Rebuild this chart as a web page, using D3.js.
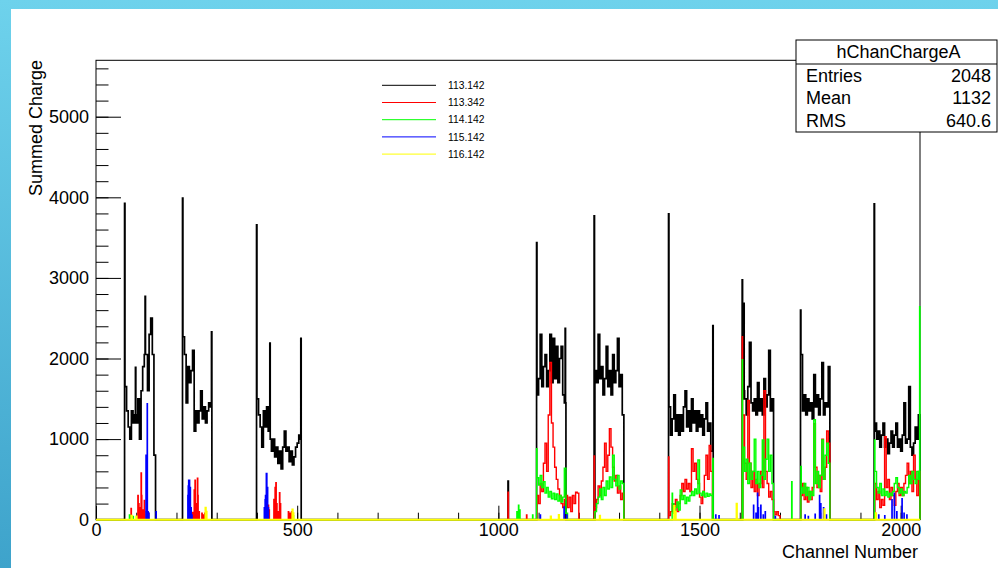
<!DOCTYPE html>
<html><head><meta charset="utf-8">
<script src="https://cdn.jsdelivr.net/npm/d3@7"></script>
<style>
html,body{margin:0;padding:0;width:998px;height:568px;overflow:hidden;background:#fff;}
svg{display:block;font-family:"Liberation Sans",Arial,Helvetica,sans-serif;}
</style></head><body>
<svg id="c" width="998" height="568"></svg>
<script>
// ---------------- DATA ----------------
const NCH = 2048;            // number of channels (bins)
const BIN = 4;               // channels per value in the block arrays
const seriesNames = ["113.142","113.342","114.142","115.142","116.142"];
const xMajorTicks = [0,500,1000,1500,2000];
const yMajorTicks = [0,1000,2000,3000,4000,5000];
const yMax = 5700;
const statsTitle = "hChanChargeA";
const statsLabels = ["Entries","Mean","RMS"];
const statsValues = ["2048","1132","640.6"];
const xTitle = "Channel Number";
const yTitle = "Summed Charge";

// blocks: [first channel, values per 4-channel group]; spikes: [channel, value]
const blackBlocks = [
  [72,  [1650,1350,1150,1000,1350,1200,1300,1200,1500,1000,1600,1900,2050,2050,1600,2300,2500,2050,800]],
  [216, [2270,2050,1450,1900,1700,1850,2100,1100,1350,1200,1350,1600,1250,1400,1200,1350,1450,1400]],
  [400, [1500,1300,1150,900,1350,1150,1400,1100,1000,850,1000,780,900,700,850,630,900,1100,850,900,720,850,680,780,900,950,1050]],
  [1096,[1550,1750,2300,1650,1900,2050,1650,1850,2300,1700,2250,1750,2150,1700,2000,2150,1550,1450]],
  [1240,[1850,1700,2300,1750,1900,1550,1750,2150,1650,1850,1550,2050,1700,1850,2250,1650,1800,1300]],
  [1424,[1400,1050,1250,1550,1100,1300,1050,1300,1100,1400,1600,1150,1350,1100,1500,1200,1350,1100,1350,1150,1300,1050,1250,1450,1100,1200,850]],
  [1608,[1600,1500,1300,1650,2200,1450,1350,1500,1300,1700,1350,1500,1300,1750,1400,1550,2100,1350,1500]],
  [1752,[2050,1350,1550,1300,1500,1350,1450,1250,1800,1400,1550,1300,1500,1950,1300,1450,1400,1900]],
  [1936,[1200,1000,1100,900,1050,1200,900,1000,820,950,1100,900,1050,1200,900,1000,850,1050,1450,950,1000,1650,900,800,950,1150,1000,1300]]
];
const blackSpikes = [[71,3925],[98,1890],[122,2770],[215,3990],[287,2330],[399,3657],[432,2190],[508,1000],[509,2250],
  [1024,480],[1095,3438],[1166,2375],[1238,3769],[1423,3794],[1532,850],[1533,2408],[1606,2975],[1607,1500],[1610,2685],
  [1751,2602],[1934,3918],[1935,1100]];

const redBlocks = [
  [1096,[300,200,450,350,700,950,600,1300,1950,1200,900,650,500,380,300,200,150,250,300,150,280,100,300,200,340,330]],
  [1240,[150,250,420,300,480,650,950,600,800,1130,900,650,480,550,330,420,250,330]],
  [1424,[50,100,200,150,250,100,200,300,450,350,500,380,450,350,880,600,700,500,450,280,200,350,550,800,500,920,600]],
  [1608,[1300,700,500,1480,700,400,600,350,500,300,450,600,400,1600,600,450,280,350,250,100,60,100,50]],
  [1752,[300,450,250,400,220,350,250,400,1190,650,400,550,350,1000,500,650,1100,950]],
  [1936,[450,250,350,150,250,180,1030,400,500,250,400,300,180,350,450,300,400,300,450,550,700,450,600,350,800,500,300,600]]
];
const redSpikes = [[87,140],[104,300],[106,200],[108,150],[112,580],[113,300],[116,120],[120,240],[125,100],[127,100],[130,80],
  [238,90],[240,90],[244,370],[246,490],[249,200],[252,514],[253,300],[256,100],[263,80],[266,60],[270,80],
  [428,180],[430,120],[442,250],[445,400],[447,459],[449,200],[452,100],[456,335],[458,200],[478,100],[482,80],[486,100],
  [1024,340],[1070,60],[1238,790],[1423,780],[1606,2270]];

const greenBlocks = [
  [1096,[520,430,550,400,470,330,400,280,350,260,330,250,320,230,300,220,280,640,80]],
  [1240,[100,200,280,380,250,400,300,480,380,530,400,800,500,420,550,380,480,450]],
  [1424,[0,0,200,80,150,220,120,370,250,300,200,280,230,300,350,300,380,320,740,330,300,350,280,330,290,320,300]],
  [1608,[900,600,750,450,700,500,600,1000,450,600,400,550,990,500,750,1000,600,800,450]],
  [1752,[400,330,450,300,400,250,350,300,1240,450,600,400,550,990,500,800,950,700]],
  [1936,[600,400,330,450,300,380,300,350,280,330,300,350,450,520,400,330,380,300,350,330,400,550,450,600,500,450,600,500]]
];
const greenSpikes = [[83,60],[92,40],[490,50],[1046,100],[1050,180],[1053,120],[1085,60],[1095,880],[1432,330],[1533,760],
  [1606,1985],[1729,470],[1752,660],[1935,990],[2047,2643]];

const blueBlocks = [];
const blueSpikes = [[124,800],[125,800],[127,1440],[129,100],[131,80],[149,100],
  [228,300],[229,420],[230,490],[232,490],[234,400],[236,150],[238,60],
  [418,150],[420,250],[421,300],[423,575],[424,575],[426,400],[428,150],
  [1104,60],[1150,50],[1163,160],[1170,60],[1540,60],[1548,50],
  [1634,180],[1640,80],[1644,330],[1646,150],[1652,180],[1658,60],[1663,100],[1688,40],
  [1762,60],[1770,40],[1787,70],[1798,300],[1801,200],[1808,150],[1815,60],
  [1945,60],[1960,50],[1978,250],[1984,330],[1990,100],[2003,260],[2008,80],[2015,60]];

const yellowBlocks = [];
const yellowSpikes = [[88,50],[100,40],[272,150],[274,100],[488,128],[490,80],[1130,40],[1150,58],[1252,50],
  [1437,170],[1440,100],[1592,200],[1810,130],[1938,80]];

// ---------------- STYLE ----------------
const colors = ["#000000","#ff0000","#00ff00","#0000ff","#ffff00"];
const widths = [1.7,1.4,1.4,1.3,1.9];

// ---------------- BUILD ----------------
function build(blocks, spikes){
  const v = new Array(NCH).fill(0);
  blocks.forEach(([start, vals]) => vals.forEach((val,k) => {
    for (let j=0;j<BIN;j++){ const c = start + BIN*k + j; if (c < NCH) v[c] = val; }
  }));
  spikes.forEach(([c,val]) => { v[c] = val; });
  return v;
}
const series = [
  build(blackBlocks, blackSpikes),
  build(redBlocks, redSpikes),
  build(greenBlocks, greenSpikes),
  build(blueBlocks, blueSpikes),
  build(yellowBlocks, yellowSpikes)
];

const svg = d3.select("#c");
const W = 998, H = 568;
const L = 96, R = 920, T = 60.3, B = 519.7;

// background
const defs = svg.append("defs");
const lg = defs.append("linearGradient").attr("id","bg").attr("x1",0).attr("y1",0).attr("x2",0).attr("y2",1);
lg.append("stop").attr("offset","0%").attr("stop-color","#6ed2ec");
lg.append("stop").attr("offset","100%").attr("stop-color","#3ea3cb");
svg.append("rect").attr("width",W).attr("height",H).attr("fill","url(#bg)");
svg.append("rect").attr("x",11).attr("y",9).attr("width",W-11).attr("height",H-9).attr("fill","#fff");

const x = d3.scaleLinear().domain([0,NCH]).range([L,R]);
const y = d3.scaleLinear().domain([0,yMax]).range([B,T]);

// frame
svg.append("rect").attr("x",L).attr("y",T).attr("width",R-L).attr("height",B-T)
  .attr("fill","none").attr("stroke","#000").attr("stroke-width",1);

// axes
const yMinorAx = d3.axisLeft(y).tickValues(d3.range(0,yMax,200)).tickSize(-12.5).tickFormat("");
const yMajorAx = d3.axisLeft(y).tickValues(yMajorTicks).tickSize(-25).tickPadding(7).tickFormat(d3.format("d"));
const xMinorAx = d3.axisBottom(x).tickValues(d3.range(0,NCH,100)).tickSize(-7).tickFormat("");
const xMajorAx = d3.axisBottom(x).tickValues(xMajorTicks).tickSize(-14).tickPadding(4).tickFormat(d3.format("d"));
function styleAxis(g){ g.select(".domain").remove(); g.selectAll("line").attr("stroke","#000");
  g.selectAll("text").attr("font-size",18).attr("fill","#000").attr("font-family","Liberation Sans, Arial, sans-serif"); }
svg.append("g").attr("transform",`translate(${L},0)`).call(yMinorAx).call(styleAxis);
svg.append("g").attr("transform",`translate(${L},0)`).call(yMajorAx).call(styleAxis);
svg.append("g").attr("transform",`translate(0,${B})`).call(xMinorAx).call(styleAxis);
svg.append("g").attr("transform",`translate(0,${B})`).call(xMajorAx).call(styleAxis);

// histograms
const line = d3.line().x(d => x(d[0])).y(d => y(d[1]));
series.forEach((v,si) => {
  const pts = [[0,0]];
  for (let i=0;i<NCH;i++){ pts.push([i,v[i]],[i+1,v[i]]); }
  pts.push([NCH,0]);
  svg.append("path").attr("d",line(pts)).attr("fill","none")
    .attr("stroke",colors[si]).attr("stroke-width",widths[si]).attr("stroke-linejoin","miter");
});

// axis titles
svg.append("text").attr("x",918).attr("y",558).attr("text-anchor","end")
  .attr("font-size",18).text(xTitle);
svg.append("text").attr("transform","translate(42,60) rotate(-90)").attr("text-anchor","end")
  .attr("font-size",18).text(yTitle);

// legend
const legY0 = 85.3, legDY = 17.2;
seriesNames.forEach((n,i) => {
  const yy = legY0 + i*legDY;
  svg.append("line").attr("x1",382).attr("x2",436).attr("y1",yy).attr("y2",yy)
    .attr("stroke",colors[i]).attr("stroke-width",1);
  svg.append("text").attr("x",448).attr("y",yy).attr("dy","0.35em").attr("font-size",10.3).text(n);
});

// stats box
const sx = 796, sy = 40, sw = 201, sh = 92, titleH = 24;
svg.append("rect").attr("x",sx).attr("y",sy).attr("width",sw).attr("height",sh)
  .attr("fill","#fff").attr("stroke","#000").attr("stroke-width",1);
svg.append("line").attr("x1",sx).attr("x2",sx+sw).attr("y1",sy+titleH).attr("y2",sy+titleH).attr("stroke","#000");
svg.append("text").attr("x",sx+sw/2+2).attr("y",sy+titleH/2).attr("dy","0.35em").attr("text-anchor","middle")
  .attr("font-size",18).text(statsTitle);
const rowH = (sh - titleH)/3;
statsLabels.forEach((lab,i) => {
  const cy = sy + titleH + rowH*(i+0.5);
  svg.append("text").attr("x",sx+10).attr("y",cy).attr("dy","0.35em").attr("font-size",18).text(lab);
  svg.append("text").attr("x",sx+sw-6).attr("y",cy).attr("dy","0.35em").attr("text-anchor","end")
    .attr("font-size",18).text(statsValues[i]);
});
</script></body></html>
